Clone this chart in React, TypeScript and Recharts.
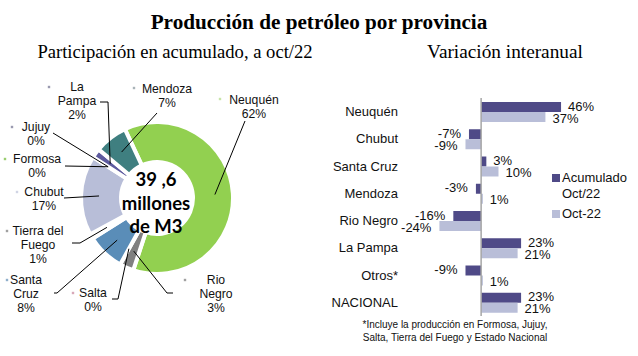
import React from 'react';
import { PieChart, Pie, Cell, BarChart, Bar, XAxis, YAxis, ReferenceLine, LabelList, Legend } from 'recharts';

// ---- Pie data (clockwise from Neuquén) ----
const provinces = ['Neuquén', 'Rio Negro', 'Salta', 'Santa Cruz', 'Tierra del Fuego', 'Chubut', 'Formosa', 'Jujuy', 'La Pampa', 'Mendoza'];
const shares = [62, 3, 0, 8, 1, 17, 0, 0, 2, 7];
const sliceColors = ['#92D050', '#808080', '#C9A3B5', '#5A8DB8', '#E6EAF2', '#B8BED8', '#7FC04A', '#5D5A9E', '#5D5A9E', '#3F7F80'];

// ---- Bar data ----
const categories = ['Neuquén', 'Chubut', 'Santa Cruz', 'Mendoza', 'Rio Negro', 'La Pampa', 'Otros*', 'NACIONAL'];
const acumulado = [46, -7, 3, -3, -16, 23, -9, 23];
const oct22 = [37, -9, 10, 1, -24, 21, 1, 21];
const seriesNames = ['Acumulado Oct/22', 'Oct-22'];

const pieData = provinces.map((name, i) => ({ name, value: shares[i] }));
const barData = categories.map((name, i) => ({ name, acum: acumulado[i], oct: oct22[i] }));

// label placement (layout only)
const pieLabelLayout: Record<string, { lines?: string[]; x: number; y: number; dot: [number, number]; dotColor: string; path: [number, number][] }> = {
  'Neuquén': { x: 254, y: 100, dot: [220, 99], dotColor: '#C8E4A8', path: [[245, 121]] },
  'Mendoza': { x: 167, y: 89, dot: [134, 88], dotColor: '#A9B3B8', path: [[157, 113]] },
  'La Pampa': { lines: ['La', 'Pampa'], x: 77, y: 87, dot: [49, 87], dotColor: '#9A9AB0', path: [[100, 102], [108, 102]] },
  'Jujuy': { x: 36, y: 127, dot: [12, 127], dotColor: '#9A9AB0', path: [[53, 133]] },
  'Formosa': { x: 37, y: 159, dot: [5, 159], dotColor: '#9ACD70', path: [[65, 166]] },
  'Chubut': { x: 44, y: 192, dot: [17, 192], dotColor: '#D0D4E4', path: [[64, 198]] },
  'Tierra del Fuego': { lines: ['Tierra del', 'Fuego'], x: 38, y: 231, dot: [7, 231], dotColor: '#A0A0A0', path: [[72, 243], [80, 243]] },
  'Santa Cruz': { lines: ['Santa', 'Cruz'], x: 26, y: 280, dot: [7, 280], dotColor: '#8FAFCB', path: [[54, 293], [57, 293]] },
  'Salta': { x: 93, y: 293, dot: [73, 293], dotColor: '#D8A8B8', path: [[112, 299], [118, 299]] },
  'Rio Negro': { lines: ['Rio', 'Negro'], x: 216, y: 280, dot: [185, 280], dotColor: '#A0A0A0', path: [[173, 293], [167, 293]] },
};

const RAD = Math.PI / 180;
const LABEL_FONT = "'Liberation Sans', Arial, sans-serif";
const SERIF = "'Liberation Serif', 'Times New Roman', serif";

const renderPieLabel = (props: any) => {
  const { cx, cy, midAngle, innerRadius, outerRadius, name, value } = props;
  const lay = pieLabelLayout[name];
  if (!lay) return null;
  const r = (innerRadius + outerRadius) / 2 + 2;
  const px = cx + r * Math.cos(-midAngle * RAD);
  const py = cy + r * Math.sin(-midAngle * RAD);
  const pts = [...lay.path, [px, py]].map((p) => p.join(',')).join(' ');
  const lines = [...(lay.lines ?? [name]), `${value}%`];
  return (
    <g>
      <polyline points={pts} fill="none" stroke="#000" strokeWidth={1} />
      <rect x={lay.dot[0] - 1.2} y={lay.dot[1] - 1.2} width={2.4} height={2.4} fill={lay.dotColor} />
      {lines.map((t, i) => (
        <text key={i} x={lay.x} y={lay.y + i * 13.6 + 4.3} textAnchor="middle" fontSize={12.2} fontFamily={LABEL_FONT} fill="#111">
          {t}
        </text>
      ))}
    </g>
  );
};

const makeValueLabel = (shift: number) => (props: any) => {
  const { x, y, width, height, value } = props;
  const xs = [Number(x), Number(x) + Number(width)];
  const pos = value >= 0;
  const end = pos ? Math.max(...xs) : Math.min(...xs);
  const tx = pos ? end + 7 : end - 8;
  return (
    <text x={tx} y={Number(y) + Number(height) / 2 + 4.6 + shift} textAnchor={pos ? 'start' : 'end'} fontSize={13} fontFamily={LABEL_FONT} fill="#111">
      {value}%
    </text>
  );
};
const darkLabel = makeValueLabel(-1);
const lightLabel = makeValueLabel(1);

const renderLegend = (props: any) => {
  const { payload } = props;
  return (
    <div style={{ fontFamily: LABEL_FONT, fontSize: 13, color: '#111', lineHeight: '16px' }}>
      {(payload || []).map((p: any, i: number) => {
        const words = String(p.value).split(' ');
        return (
          <div key={i} style={{ display: 'flex', alignItems: 'flex-start', marginBottom: i === 0 ? 4 : 0 }}>
            <div style={{ width: 8, height: 8, background: p.color, marginTop: 4, marginRight: 2, flexShrink: 0 }} />
            <div>
              {words.map((w: string, j: number) => (
                <div key={j}>{w}</div>
              ))}
            </div>
          </div>
        );
      })}
    </div>
  );
};

export default function App() {
  return (
    <div style={{ position: 'absolute', left: 0, top: 0, width: 638, height: 356, background: '#fff', overflow: 'hidden' }}>
      <div style={{ position: 'absolute', left: 0, top: 11, width: 638, textAlign: 'center', fontFamily: SERIF, fontWeight: 'bold', fontSize: 21.2, lineHeight: '22px', color: '#000' }}>
        Producción de petróleo por provincia
      </div>
      <div style={{ position: 'absolute', left: 0, top: 42, width: 350, textAlign: 'center', fontFamily: SERIF, fontSize: 18.6, lineHeight: '20px', color: '#000', whiteSpace: 'nowrap' }}>
        Participación en acumulado, a oct/22
      </div>
      <div style={{ position: 'absolute', left: 405, top: 42, width: 200, textAlign: 'center', fontFamily: SERIF, fontSize: 19.3, lineHeight: '20px', color: '#000', whiteSpace: 'nowrap' }}>
        Variación interanual
      </div>

      <div style={{ position: 'absolute', left: 0, top: 0 }}>
        <PieChart width={320} height={356} margin={{ top: 0, right: 0, bottom: 0, left: 0 }}>
          <Pie
            data={pieData}
            dataKey="value"
            nameKey="name"
            cx={157}
            cy={198}
            innerRadius={36}
            outerRadius={76}
            startAngle={115}
            endAngle={-245}
            stroke="#fff"
            strokeWidth={4}
            label={renderPieLabel}
            labelLine={false}
            isAnimationActive={false}
          >
            {pieData.map((d, i) => (
              <Cell key={d.name} fill={sliceColors[i]} />
            ))}
          </Pie>
        </PieChart>
      </div>
      <div style={{ position: 'absolute', left: 106, top: 168, width: 100, textAlign: 'center', fontFamily: "Lato, 'Open Sans', sans-serif", fontWeight: 'bold', fontSize: 18.5, lineHeight: '23.5px', color: '#000' }}>
        <div>39 ,6</div>
        <div>millones</div>
        <div>de M3</div>
      </div>

      <div style={{ position: 'absolute', left: 320, top: 0 }}>
        <BarChart width={318} height={356} layout="vertical" data={barData} margin={{ top: 98, right: 70, bottom: 40, left: 9 }} barSize={10} barGap={0}>
          <XAxis type="number" domain={[-30, 50]} hide />
          <YAxis
            type="category"
            dataKey="name"
            width={100}
            axisLine={false}
            tickLine={false}
            tickSize={0}
            tickMargin={31}
            interval={0}
            tick={{ fontSize: 13, fill: '#111', fontFamily: LABEL_FONT }}
          />
          <Legend
            layout="vertical"
            align="center"
            verticalAlign="middle"
            content={renderLegend}
            wrapperStyle={{ left: 232, top: 170, width: 90, height: 60 }}
          />
          <Bar dataKey="acum" name={seriesNames[0]} fill="#4F4A87" isAnimationActive={false}>
            <LabelList dataKey="acum" content={darkLabel} />
          </Bar>
          <Bar dataKey="oct" name={seriesNames[1]} fill="#B9BED8" isAnimationActive={false}>
            <LabelList dataKey="oct" content={lightLabel} />
          </Bar>
          <ReferenceLine x={0} stroke="#A6A6A6" strokeWidth={1.5} />
        </BarChart>
      </div>
      <div style={{ position: 'absolute', left: 330, top: 319, width: 250, textAlign: 'center', fontFamily: LABEL_FONT, fontSize: 10, lineHeight: '12.5px', color: '#111' }}>
        <div>*Incluye la producción en Formosa, Jujuy,</div>
        <div>Salta, Tierra del Fuego y Estado Nacional</div>
      </div>
    </div>
  );
}
